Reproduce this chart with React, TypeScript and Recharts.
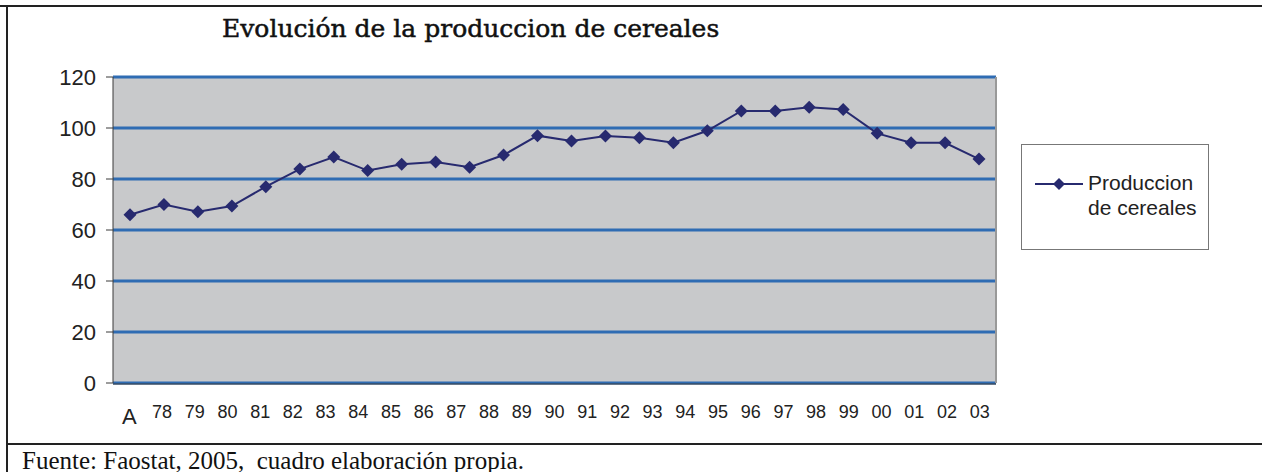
import {
  LineChart,
  Line,
  XAxis,
  YAxis,
  CartesianGrid,
  Legend,
  ReferenceLine,
} from "recharts";

const years = [
  "1978", "1979", "1980", "1981", "1982", "1983", "1984", "1985", "1986",
  "1987", "1988", "1989", "1990", "1991", "1992", "1993", "1994", "1995",
  "1996", "1997", "1998", "1999", "2000", "2001", "2002", "2003",
];

const production = [
  66, 70, 67.2, 69.4, 77, 83.9, 88.6, 83.3, 85.8, 86.7, 84.6, 89.4, 97,
  94.9, 96.9, 96.2, 94.2, 98.9, 106.7, 106.7, 108.1, 107.3, 97.9, 94.2,
  94.2, 87.8,
];

const tickLabels = [
  "A", "78", "79", "80", "81", "82", "83", "84", "85", "86", "87", "88",
  "89", "90", "91", "92", "93", "94", "95", "96", "97", "98", "99", "00",
  "01", "02", "03",
];

const yTicks = [0, 20, 40, 60, 80, 100, 120];

const data = years.map((year, i) => ({ year, production: production[i] }));

const NAVY = "#272a6f";
const BLUE = "#2f6cb3";
const AXIS = "#3a3a3a";

const Diamond = (props: any) => {
  const { cx, cy, index } = props;
  if (cx == null || cy == null) return <g key={index} />;
  const r = 6.5;
  return (
    <polygon
      key={index}
      points={`${cx},${cy - r} ${cx + r},${cy} ${cx},${cy + r} ${cx - r},${cy}`}
      fill={NAVY}
    />
  );
};

const XLabel = (props: any) => {
  const { x, y, payload } = props;
  const label = tickLabels[Math.floor(payload.value)];
  const big = label === "A";
  return (
    <text
      x={x}
      y={big ? y + 3 : y}
      dy="0.71em"
      textAnchor="middle"
      fill="#222"
      fontSize={big ? 22 : 18}
      fontFamily="'Liberation Sans', Arial, sans-serif"
    >
      {label}
    </text>
  );
};

const LegendBox = () => (
  <div
    style={{
      width: 188,
      height: 106,
      boxSizing: "border-box",
      border: "1px solid #777",
      background: "#fff",
      position: "relative",
      fontFamily: "'Liberation Sans', Arial, sans-serif",
      fontSize: 21,
      color: "#222",
    }}
  >
    <svg width={50} height={20} style={{ position: "absolute", left: 13, top: 29 }}>
      <line x1={0} y1={10} x2={48} y2={10} stroke={NAVY} strokeWidth={2} />
      <polygon points="24,4 30,10 24,16 18,10" fill={NAVY} />
    </svg>
    <div style={{ position: "absolute", left: 66, top: 25, lineHeight: "25px" }}>
      Produccion
      <br />
      de cereales
    </div>
  </div>
);

export default function App() {
  return (
    <div
      style={{
        position: "absolute",
        left: 0,
        top: 0,
        width: 1262,
        height: 472,
        background: "#fff",
        overflow: "hidden",
      }}
    >
      <div style={{ position: "absolute", left: 0, top: 5, width: 1262, height: 2, background: "#222" }} />
      <div style={{ position: "absolute", left: 6, top: 5, width: 2, height: 467, background: "#222" }} />
      <div style={{ position: "absolute", left: 6, top: 443, width: 1256, height: 2, background: "#222" }} />
      <div
        style={{
          position: "absolute",
          left: 222,
          top: 14,
          fontFamily: "'DejaVu Serif', serif",
          fontSize: 25,
          lineHeight: "30px",
          color: "#111",
          whiteSpace: "nowrap",
          WebkitTextStroke: "0.5px #111",
        }}
      >
        Evolución de la produccion de cereales
      </div>
      <div
        style={{
          position: "absolute",
          left: 22,
          top: 447,
          fontFamily: "'Liberation Serif', 'Times New Roman', serif",
          fontSize: 25,
          lineHeight: "28px",
          color: "#111",
          whiteSpace: "pre",
        }}
      >
        Fuente: Faostat, 2005,  cuadro elaboración propia.
      </div>
      <div style={{ position: "absolute", left: 0, top: 0 }}>
        <LineChart
          width={1262}
          height={440}
          data={data}
          margin={{ top: 77, right: 266, left: 0, bottom: 16 }}
        >
          <CartesianGrid
            vertical={false}
            horizontal
            stroke={BLUE}
            strokeWidth={3}
            fill="#c8c9cb"
            fillOpacity={1}
          />
          <XAxis
            xAxisId="edges"
            dataKey="production"
            type="number"
            domain={[0, years.length]}
            allowDataOverflow
            ticks={[...years.map((_, i) => i), years.length]}
            interval={0}
            height={1}
            tick={false}
            tickSize={7}
            tickLine={{ stroke: AXIS }}
            axisLine={{ stroke: AXIS }}
          />
          <XAxis
            xAxisId="labels"
            dataKey="production"
            type="number"
            domain={[0, tickLabels.length]}
            allowDataOverflow
            ticks={tickLabels.map((_, i) => i + 0.5)}
            interval={0}
            height={40}
            tickSize={0}
            tickMargin={20}
            tickLine={false}
            axisLine={false}
            tick={<XLabel />}
          />
          <XAxis xAxisId="cat" dataKey="year" type="category" scale="band" height={1} hide />
          <YAxis
            type="number"
            domain={[0, 120]}
            ticks={yTicks}
            interval={0}
            width={113}
            tickSize={7}
            tickMargin={10}
            tickLine={{ stroke: AXIS }}
            axisLine={{ stroke: AXIS }}
            tick={{ fill: "#222", fontSize: 22, fontFamily: "'Liberation Sans', Arial, sans-serif" }}
          />
          <ReferenceLine xAxisId="edges" x={years.length} stroke="#999" strokeWidth={2} />
          <Legend
            verticalAlign="middle"
            align="center"
            layout="horizontal"
            wrapperStyle={{ left: 1021, top: 144, width: 188, height: 106 }}
            content={() => <LegendBox />}
          />
          <Line
            xAxisId="cat"
            type="linear"
            dataKey="production"
            name="Produccion de cereales"
            stroke={NAVY}
            strokeWidth={2}
            dot={(p: any) => <Diamond key={p.index} {...p} />}
            activeDot={false}
            isAnimationActive={false}
          />
        </LineChart>
      </div>
    </div>
  );
}
